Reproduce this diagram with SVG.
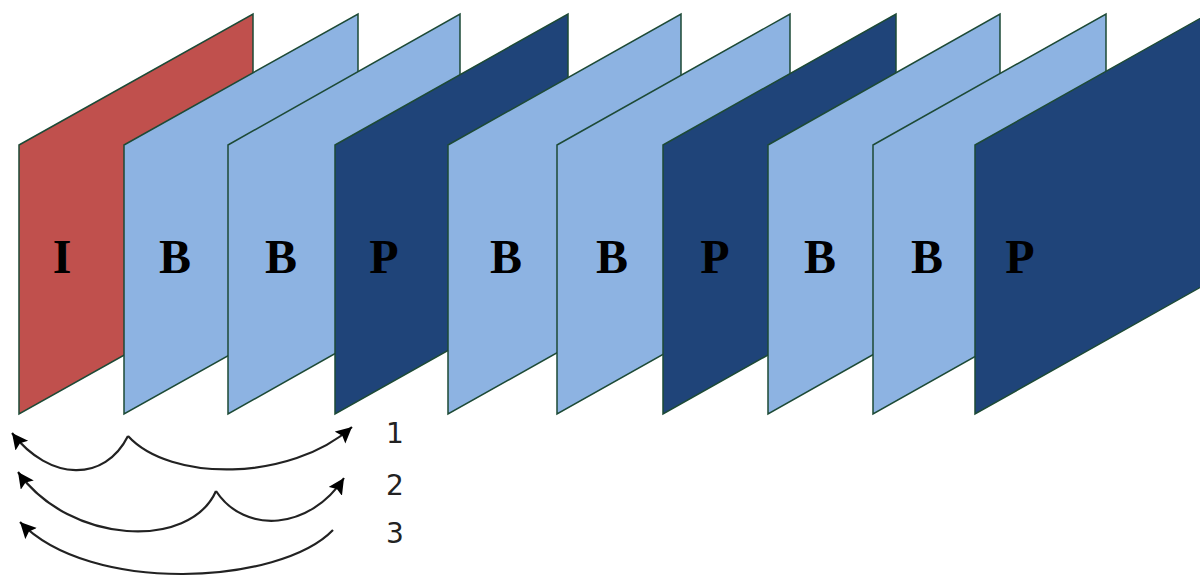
<svg xmlns="http://www.w3.org/2000/svg" width="1200" height="576" viewBox="0 0 1200 576">
  <style>
    .frame { stroke: #1d4a36; stroke-width: 1.5; stroke-linejoin: miter; }
    .i { fill: #c0504d; }
    .b { fill: #8db3e2; }
    .p { fill: #1f4479; }
    .lbl { font-family: "Liberation Serif", "Times New Roman", serif; font-size: 48px; font-weight: bold; fill: #000; text-anchor: middle; }
    .num { font-family: "DejaVu Sans", Verdana, sans-serif; font-size: 28px; fill: #222; }
    .arc { fill: none; stroke: #222; stroke-width: 2.2; }
  </style>
  <defs>
    <marker id="ah" markerUnits="userSpaceOnUse" markerWidth="20" markerHeight="20" refX="16" refY="8" orient="auto">
      <path d="M0,0 L16,8 L0,16 L3,8 z" fill="#000"/>
    </marker>
  </defs>
  <rect width="1200" height="576" fill="#fff"/>

  <g id="frame1"><polygon class="frame i" points="19,145 253,14 253,283 19,414"/><text class="lbl" x="62" y="273">I</text></g>
  <g id="frame2"><polygon class="frame b" points="124,145 358,14 358,283 124,414"/><text class="lbl" x="175" y="273">B</text></g>
  <g id="frame3"><polygon class="frame b" points="228,145 460,14 460,283 228,414"/><text class="lbl" x="281" y="273">B</text></g>
  <g id="frame4"><polygon class="frame p" points="335,145 568,14 568,283 335,414"/><text class="lbl" x="384" y="273">P</text></g>
  <g id="frame5"><polygon class="frame b" points="448,145 681,14 681,283 448,414"/><text class="lbl" x="506" y="273">B</text></g>
  <g id="frame6"><polygon class="frame b" points="557,145 790,14 790,283 557,414"/><text class="lbl" x="612" y="273">B</text></g>
  <g id="frame7"><polygon class="frame p" points="663,145 896,14 896,283 663,414"/><text class="lbl" x="715" y="273">P</text></g>
  <g id="frame8"><polygon class="frame b" points="768,145 1000,14 1000,283 768,414"/><text class="lbl" x="820" y="273">B</text></g>
  <g id="frame9"><polygon class="frame b" points="873,145 1106,14 1106,283 873,414"/><text class="lbl" x="927" y="273">B</text></g>
  <g id="frame10"><polygon class="frame p" points="975,145 1208,14 1208,283 975,414"/><text class="lbl" x="1020" y="273">P</text></g>

  <g id="connectors">
    <path class="arc" d="M128,436 C105,482 50,482 12,433" marker-end="url(#ah)"/>
    <path class="arc" d="M128,436 C170,482 290,482 352,427" marker-end="url(#ah)"/>
    <path class="arc" d="M216,491 C190,550 70,545 18,472" marker-end="url(#ah)"/>
    <path class="arc" d="M216,491 C245,535 310,530 344,478" marker-end="url(#ah)"/>
    <path class="arc" d="M333,530 C280,585 90,595 20,522" marker-end="url(#ah)"/>
  </g>

  <g id="numbers">
    <text class="num" x="386" y="443">1</text>
    <text class="num" x="386" y="495">2</text>
    <text class="num" x="386" y="543">3</text>
  </g>
</svg>
